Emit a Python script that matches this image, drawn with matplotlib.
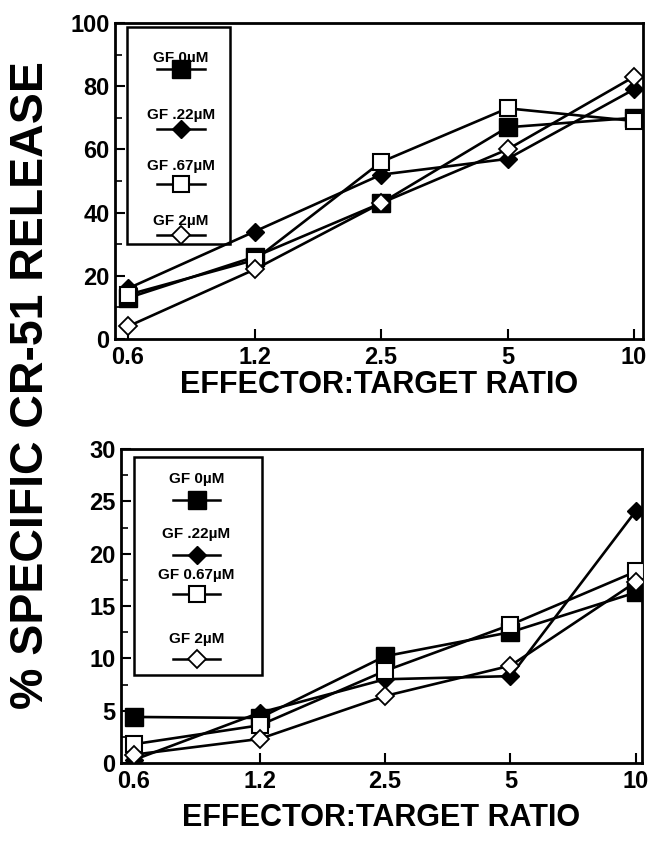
import numpy as np
import matplotlib.pyplot as plt
from matplotlib.patches import Rectangle
from matplotlib.lines import Line2D

plt.rcParams['font.family'] = ['Liberation Sans', 'DejaVu Sans']
plt.rcParams['font.weight'] = 'bold'

ratios = ['0.6', '1.2', '2.5', '5', '10']

# top panel
top_gf0 = [13, 26, 43, 67, 70]
top_gf22 = [16, 34, 52, 57, 79]
top_gf67 = [14, 25, 56, 73, 69]
top_gf2 = [4, 22, 43, 60, 83]
top_labels = ['GF 0\u00b5M', 'GF .22\u00b5M', 'GF .67\u00b5M', 'GF 2\u00b5M']

# bottom panel
bot_gf0 = [4.4, 4.3, 10.2, 12.5, 16.3]
bot_gf22 = [0.3, 4.8, 8.0, 8.3, 24.1]
bot_gf67 = [1.8, 3.6, 8.8, 13.2, 18.3]
bot_gf2 = [0.8, 2.3, 6.4, 9.3, 17.3]
bot_labels = ['GF 0\u00b5M', 'GF .22\u00b5M', 'GF 0.67\u00b5M', 'GF 2\u00b5M']

styles = [
    dict(marker='s', mfc='black', mec='black', ms=13),
    dict(marker='D', mfc='black', mec='black', ms=9),
    dict(marker='s', mfc='white', mec='black', ms=12, mew=1.5),
    dict(marker='D', mfc='white', mec='black', ms=9, mew=1.3),
]

fig = plt.figure(figsize=(6.52, 8.46), dpi=100)
ax1 = fig.add_axes([115/652, 1-339/846, 528/652, 316/846])
ax2 = fig.add_axes([121/652, 1-763/846, 521/652, 314/846])

x = np.arange(len(ratios))


def draw_panel(ax, series, labels, ymax, ystep, xlim, box, lab_y, mk_y, cx, lpad):
    for ser, st in zip(series, styles):
        ax.plot(x, ser, color='black', lw=1.9, **st, zorder=3)
    ax.set_xlim(*xlim)
    ax.set_ylim(0, ymax)
    ax.set_xticks(x)
    ax.set_xticklabels(ratios)
    ax.set_yticks(np.arange(0, ymax + 1, ystep))
    ax.set_yticks(np.arange(ystep / 2, ymax, ystep), minor=True)
    ax.tick_params(direction='in', length=7, width=1.5, labelsize=17, pad=4)
    ax.tick_params(which='minor', direction='in', length=5, width=1.2)
    ax.tick_params(axis='x', pad=5)
    for s in ax.spines.values():
        s.set_linewidth(2)
    ax.set_xlabel('EFFECTOR:TARGET RATIO', fontsize=22, fontweight='bold', labelpad=lpad)
    # legend box, label above its marker
    ax.add_patch(Rectangle((box[0], box[1]), box[2], box[3], transform=ax.transAxes,
                           fill=False, lw=1.8, zorder=5))
    for lab, ly, my, st in zip(labels, lab_y, mk_y, styles):
        ax.text(cx, ly, lab, transform=ax.transAxes, ha='center', va='center',
                fontsize=11, fontweight='bold', zorder=6)
        ax.add_line(Line2D([cx - 0.045, cx + 0.045], [my, my], color='black', lw=1.8,
                           transform=ax.transAxes, zorder=6))
        ax.add_line(Line2D([cx], [my], color='black', transform=ax.transAxes, zorder=7, **st))


draw_panel(ax1, [top_gf0, top_gf22, top_gf67, top_gf2], top_labels, 100, 20,
           (-0.103, 4.071), (0.023, 0.30, 0.195, 0.688),
           [1 - 35/316, 1 - 92/316, 1 - 143/316, 1 - 198/316],
           [1 - 46/316, 1 - 106/316, 1 - 161/316, 1 - 212/316], 0.125, 1)

draw_panel(ax2, [bot_gf0, bot_gf22, bot_gf67, bot_gf2], bot_labels, 30, 5,
           (-0.104, 4.048), (0.025, 0.28, 0.245, 0.695),
           [1 - 30/314, 1 - 85/314, 1 - 126/314, 1 - 190/314],
           [1 - 51/314, 1 - 106/314, 1 - 145/314, 1 - 210/314], 0.145, 7)

fig.text(0.048, 0.545, '% SPECIFIC CR-51 RELEASE', rotation=90, ha='center', va='center',
         fontsize=33.5, fontweight='bold')

fig.savefig('out.png', dpi=100)
